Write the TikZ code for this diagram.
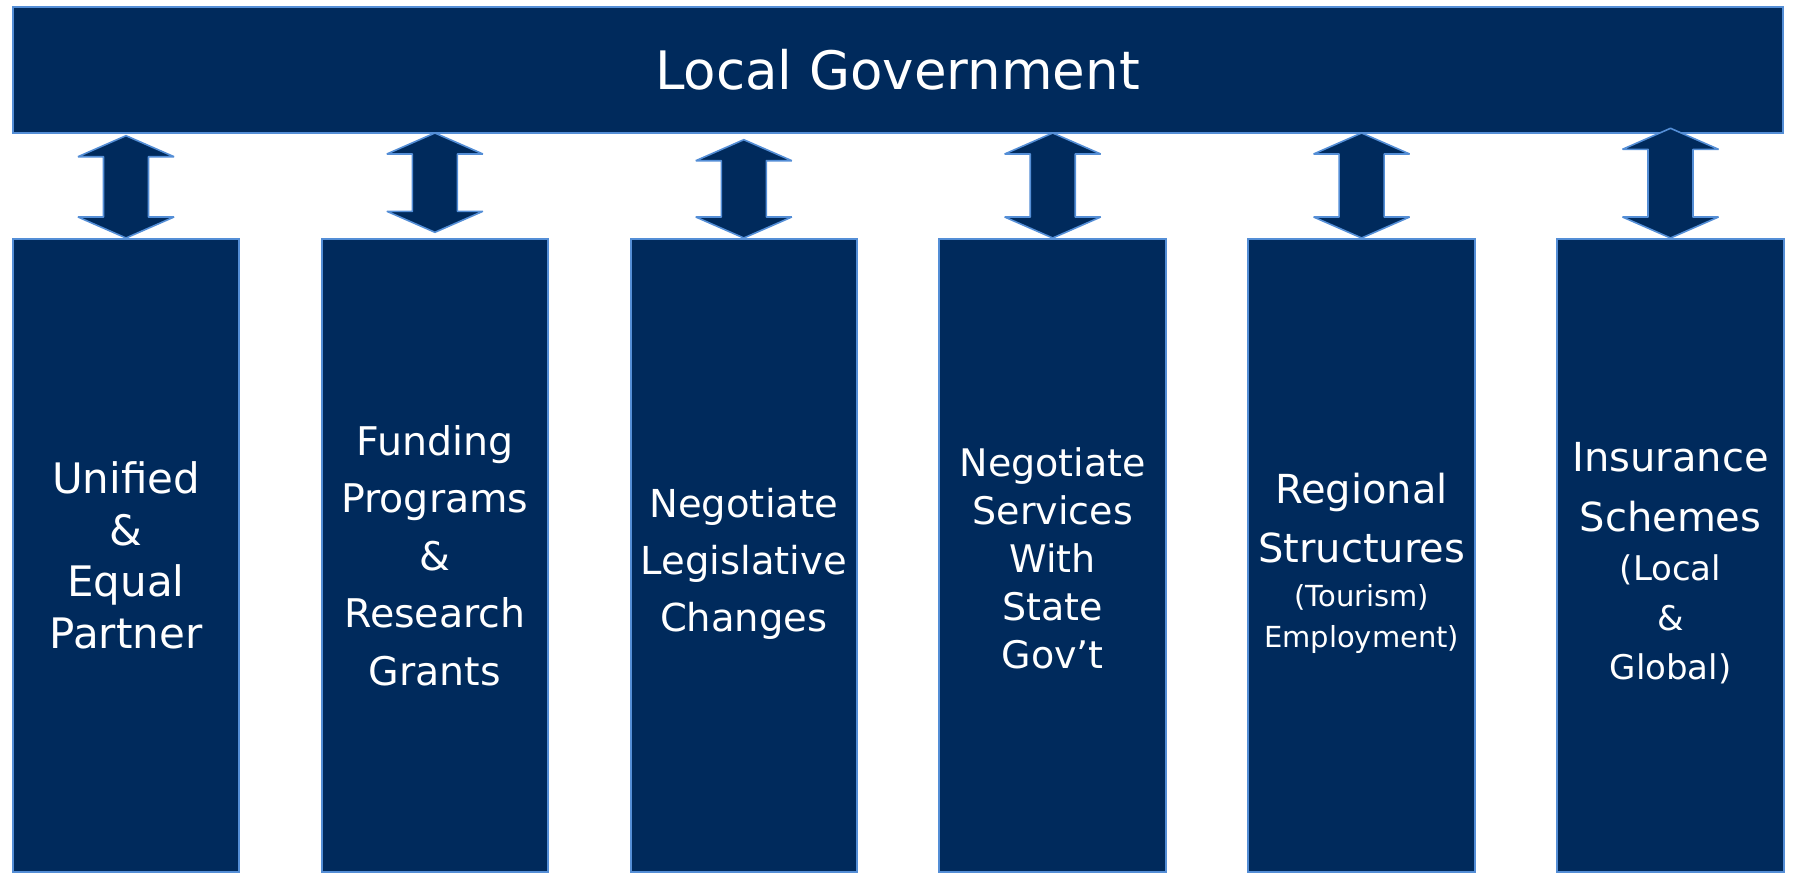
\documentclass[tikz,border=0pt]{standalone}
\usepackage{fontspec}
\setmainfont{DejaVu Sans}
\usetikzlibrary{calc}
\definecolor{navy}{RGB}{0,42,92}
\definecolor{edge}{RGB}{84,142,214}
\newcommand{\twoway}[2]{%
  \filldraw[link] (#1) -- ($(#1)+(48,21)$) -- ($(#1)+(22.5,21)$)
    -- ($(#2)+(22.5,-21)$) -- ($(#2)+(48,-21)$) -- (#2)
    -- ($(#2)+(-48,-21)$) -- ($(#2)+(-22.5,-21)$)
    -- ($(#1)+(-22.5,21)$) -- ($(#1)+(-48,21)$) -- cycle;}
\newcommand{\smallline}[1]{{\fontsize{29}{41}\selectfont #1}}
\newcommand{\midline}[1]{{\fontsize{34}{49.5}\selectfont #1}}
\newcommand{\lift}[1]{\rule{0pt}{#1}}

\begin{document}
\begin{tikzpicture}[x=1pt,y=-1pt,node distance=308.9pt,
    bar/.style={draw=edge,fill=navy,text=white,line width=2pt,inner sep=0pt,
      minimum width=1770pt,minimum height=126.5pt,font=\fontsize{53}{62}\selectfont},
    pillar/.style={draw=edge,fill=navy,text=white,line width=2pt,inner sep=0pt,
      minimum width=226.5pt,minimum height=633pt,align=center},
    link/.style={draw=edge,fill=navy,line width=1.6pt,line join=bevel}]
  \useasboundingbox (0,0) rectangle (1793,875);

  \node[bar] (lg) at (897.5,70) {Local Government};

  \node[pillar,font=\fontsize{42}{51.5}\selectfont] (1) at (126,555.5)
    {Unified\\ \&\\ Equal\\ Partner};
  \node[pillar,right of=1,font=\fontsize{39.5}{57.5}\selectfont] (2)
    {Funding\\ Programs\\ \&\\ Research\\ Grants};
  \node[pillar,right of=2,font=\fontsize{38.5}{57}\selectfont] (3)
    {\lift{45pt}Negotiate\\ Legislative\\ Changes};
  \node[pillar,right of=3,font=\fontsize{38}{48}\selectfont] (4)
    {\lift{35pt}Negotiate\\ Services\\ With\\ State\\ Gov’t};
  \node[pillar,right of=4,font=\fontsize{40}{59}\selectfont] (5)
    {\lift{46.5pt}Regional\\ Structures\\[-15pt] \smallline{(Tourism)}\\[-18pt] \smallline{Employment)}};
  \node[pillar,right of=5,font=\fontsize{40}{60}\selectfont] (6)
    {\lift{45.2pt}Insurance\\ Schemes\\[-11pt] \midline{(Local}\\[-10.5pt] \midline{\&}\\[-10.5pt] \midline{Global)}};

  % arrow ends
  \coordinate (t1) at ($(1.north)+(0,-102.3)$);
  \coordinate (t2) at ($(2.north)+(0,-105)$);
  \coordinate (b2) at ($(2.north)+(0,-5.7)$);
  \coordinate (t3) at ($(3.north)+(0,-98.3)$);
  \coordinate (t4) at ($(4.north)+(0,-105)$);
  \coordinate (t5) at ($(5.north)+(0,-105)$);
  \coordinate (t6) at ($(6.north)+(0,-109.7)$);

  \twoway{t1}{1.north}
  \twoway{t2}{b2}
  \twoway{t3}{3.north}
  \twoway{t4}{4.north}
  \twoway{t5}{5.north}
  \twoway{t6}{6.north}
\end{tikzpicture}
\end{document}
